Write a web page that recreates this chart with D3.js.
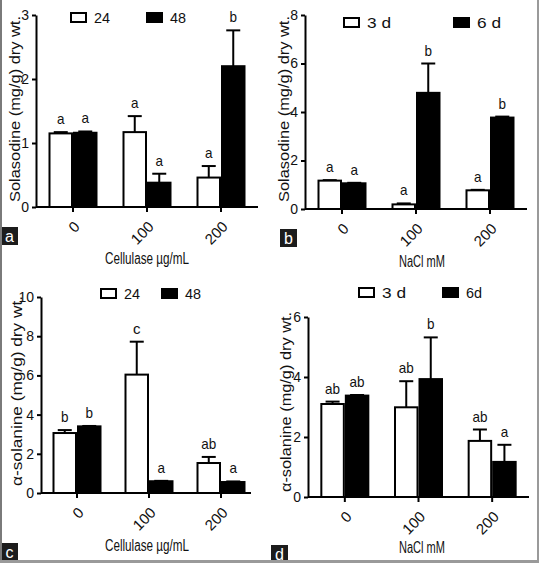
<!DOCTYPE html>
<html><head><meta charset="utf-8">
<script src="https://cdn.jsdelivr.net/npm/d3@7"></script>
<style>
body{margin:0;background:#fff;}
svg{display:block;}
text{font-family:"Liberation Sans",Arial,sans-serif;fill:#111;}
</style></head><body>
<svg id="chart" width="539" height="563"></svg>
<script>
// ---- data ----
const doses = ["0", "100", "200"];

// Panel a: Solasodine, Cellulase (24 h / 48 h)
const solCel24 = [1.15, 1.17, 0.46];
const solCel24Err = [0.02, 0.25, 0.18];
const solCel48 = [1.16, 0.38, 2.20];
const solCel48Err = [0.02, 0.14, 0.56];
const solCelLetters24 = ["a", "a", "a"];
const solCelLetters48 = ["a", "a", "b"];

// Panel b: Solasodine, NaCl (3 d / 6 d)
const solNa3 = [1.17, 0.19, 0.77];
const solNa3Err = [0.02, 0.04, 0.02];
const solNa6 = [1.06, 4.79, 3.77];
const solNa6Err = [0.02, 1.21, 0.04];
const solNaLetters3 = ["a", "a", "a"];
const solNaLetters6 = ["a", "b", "b"];

// Panel c: alpha-solanine, Cellulase (24 / 48)
const solaCel24 = [3.06, 6.04, 1.53];
const solaCel24Err = [0.15, 1.68, 0.31];
const solaCel48 = [3.40, 0.60, 0.56];
const solaCel48Err = [0.02, 0.02, 0.03];
const solaCelLetters24 = ["b", "c", "ab"];
const solaCelLetters48 = ["b", "a", "a"];

// Panel d: alpha-solanine, NaCl (3 d / 6 d)
const solaNa3 = [3.10, 2.99, 1.87];
const solaNa3Err = [0.08, 0.87, 0.38];
const solaNa6 = [3.38, 3.93, 1.17];
const solaNa6Err = [0.02, 1.39, 0.57];
const solaNaLetters3 = ["ab", "ab", "ab"];
const solaNaLetters6 = ["ab", "b", "a"];

const yTicksA = [0, 1, 2, 3];
const yTicksB = [0, 2, 4, 6, 8];
const yTicksC = [0, 2, 4, 6, 8, 10];
const yTicksD = [0, 2, 4, 6];

const legendCel = ["24", "48"];
const legendNaB = ["3 d", "6 d"];
const legendNaD = ["3 d", "6d"];

const titleSol = "Solasodine (mg/g) dry wt.";
const titleSola = "\u03b1-solanine  (mg/g) dry wt.";
const xTitleCel = "Cellulase \u00b5g/mL";
const xTitleNa = "NaCl mM";

// ---- drawing ----
const svg = d3.select("#chart");

function panel(cfg) {
  const g = svg.append("g");
  const y = d3.scaleLinear().domain([0, cfg.yMax]).range([cfg.y0, cfg.yTop]);
  const x = d3.scaleBand().domain(doses).range([cfg.xStart, cfg.xEnd]).padding(0);
  const half = 24.5;
  const series = [
    {vals: cfg.s1, err: cfg.e1, lab: cfg.l1, fill: "#fff", off: -half},
    {vals: cfg.s2, err: cfg.e2, lab: cfg.l2, fill: "#000", off: 0}
  ];
  series.forEach(s => {
    doses.forEach((d, i) => {
      const cx = x(d) + x.bandwidth() / 2;
      const bx = cx + s.off;
      const top = y(s.vals[i]);
      const et = y(s.vals[i] + s.err[i]);
      const mid = bx + half / 2;
      g.append("line").attr("x1", mid).attr("x2", mid).attr("y1", top).attr("y2", et)
        .attr("stroke", "#000").attr("stroke-width", 2);
      g.append("line").attr("x1", mid - 7).attr("x2", mid + 7).attr("y1", et).attr("y2", et)
        .attr("stroke", "#000").attr("stroke-width", 2);
      g.append("rect").attr("x", bx + 1).attr("y", top).attr("width", half - 2)
        .attr("height", cfg.y0 - top).attr("fill", s.fill)
        .attr("stroke", "#000").attr("stroke-width", 2);
      g.append("text").attr("x", mid).attr("y", et - 8).attr("text-anchor", "middle")
        .attr("font-size", 15).attr("textLength", s.lab[i].length * 7.5).attr("lengthAdjust", "spacingAndGlyphs")
        .text(s.lab[i]);
    });
  });
  // y axis
  const ya = g.append("g").attr("transform", `translate(${cfg.xStart},0)`)
    .call(d3.axisLeft(y).tickValues(cfg.ticks).tickFormat(d3.format("d")).tickSize(4).tickSizeOuter(0).tickPadding(3));
  ya.select(".domain").attr("stroke-width", 2);
  ya.selectAll(".tick line").attr("stroke-width", 2);
  ya.selectAll(".tick text").attr("font-size", 14).attr("font-family", "Liberation Sans, Arial, sans-serif")
    .attr("fill", "#111");
  // x axis
  const xa = g.append("g").attr("transform", `translate(0,${cfg.y0})`)
    .call(d3.axisBottom(x).tickSize(5).tickSizeOuter(0).tickFormat(""));
  xa.select(".domain").attr("stroke-width", 2).attr("d", `M${cfg.xStart},0H${cfg.xLineEnd}`);
  xa.selectAll(".tick line").attr("stroke-width", 2);
  doses.forEach(d => {
    const cx = x(d) + x.bandwidth() / 2;
    g.append("text").attr("transform", `translate(${cx + 4},${cfg.y0 + 17}) rotate(-45)`)
      .attr("text-anchor", "end").attr("dy", "0.35em").attr("font-size", 15).text(d);
  });
  // titles
  g.append("text").attr("transform", `translate(${cfg.ytX},${cfg.ytY}) rotate(-90)`)
    .attr("text-anchor", "middle").attr("dy", "0.35em").attr("font-size", 15)
    .attr("textLength", cfg.ytLen).attr("lengthAdjust", "spacingAndGlyphs").text(cfg.yTitle);
  g.append("text").attr("x", cfg.xtX).attr("y", cfg.xtY).attr("text-anchor", "middle")
    .attr("font-size", 16).attr("textLength", cfg.xtLen).attr("lengthAdjust", "spacingAndGlyphs").text(cfg.xTitle);
  // legend
  cfg.legend.forEach((t, i) => {
    const lx = cfg.legX[i];
    g.append("rect").attr("x", lx + 1).attr("y", cfg.legY + 1).attr("width", 15).attr("height", 9)
      .attr("fill", i === 0 ? "#fff" : "#000").attr("stroke", "#000").attr("stroke-width", 2);
    g.append("text").attr("x", lx + 24).attr("y", cfg.legY + 10.5).attr("font-size", 15)
      .attr("textLength", t.length * 8).attr("lengthAdjust", "spacingAndGlyphs").text(t);
  });
  // panel tag
  g.append("rect").attr("x", cfg.tagX).attr("y", cfg.tagY).attr("width", 17).attr("height", 18).attr("fill", "#1c1c1c");
  g.append("text").attr("x", cfg.tagX + 8.5).attr("y", cfg.tagY + 14.5).attr("text-anchor", "middle")
    .attr("font-size", 16).style("fill", "#fff").text(cfg.tag);
}

panel({yMax: 3, y0: 207, yTop: 15, ticks: yTicksA, xStart: 36, xEnd: 258, xLineEnd: 258,
  s1: solCel24, e1: solCel24Err, l1: solCelLetters24, s2: solCel48, e2: solCel48Err, l2: solCelLetters48,
  yTitle: titleSol, ytX: 15, ytY: 109, ytLen: 186, xTitle: xTitleCel, xtX: 147, xtY: 264, xtLen: 84,
  legend: legendCel, legX: [70, 146], legY: 12, tag: "a", tagX: 1, tagY: 227});

panel({yMax: 8, y0: 209, yTop: 15, ticks: yTicksB, xStart: 305, xEnd: 527, xLineEnd: 527,
  s1: solNa3, e1: solNa3Err, l1: solNaLetters3, s2: solNa6, e2: solNa6Err, l2: solNaLetters6,
  yTitle: titleSol, ytX: 284, ytY: 109, ytLen: 186, xTitle: xTitleNa, xtX: 422, xtY: 267, xtLen: 46,
  legend: legendNaB, legX: [343, 453], legY: 17, tag: "b", tagX: 280, tagY: 229});

panel({yMax: 10, y0: 493, yTop: 297, ticks: yTicksC, xStart: 41, xEnd: 257, xLineEnd: 251,
  s1: solaCel24, e1: solaCel24Err, l1: solaCelLetters24, s2: solaCel48, e2: solaCel48Err, l2: solaCelLetters48,
  yTitle: titleSola, ytX: 17, ytY: 391, ytLen: 190, xTitle: xTitleCel, xtX: 147, xtY: 551, xtLen: 84,
  legend: legendCel, legX: [100, 161], legY: 288, tag: "c", tagX: 1, tagY: 543});

panel({yMax: 6, y0: 497, yTop: 317, ticks: yTicksD, xStart: 308, xEnd: 529, xLineEnd: 529,
  s1: solaNa3, e1: solaNa3Err, l1: solaNaLetters3, s2: solaNa6, e2: solaNa6Err, l2: solaNaLetters6,
  yTitle: titleSola, ytX: 286, ytY: 402, ytLen: 180, xTitle: xTitleNa, xtX: 422, xtY: 553, xtLen: 46,
  legend: legendNaD, legX: [358, 442], legY: 287, tag: "d", tagX: 271, tagY: 545});

// outer frame
svg.append("line").attr("x1", 1).attr("x2", 1).attr("y1", 0).attr("y2", 563).attr("stroke", "#7a7a7a").attr("stroke-width", 2);
svg.append("line").attr("x1", 538).attr("x2", 538).attr("y1", 0).attr("y2", 563).attr("stroke", "#9a9a9a").attr("stroke-width", 2);
svg.append("line").attr("x1", 0).attr("x2", 539).attr("y1", 561.5).attr("y2", 561.5).attr("stroke", "#9a9a9a").attr("stroke-width", 3);
</script></body></html>
